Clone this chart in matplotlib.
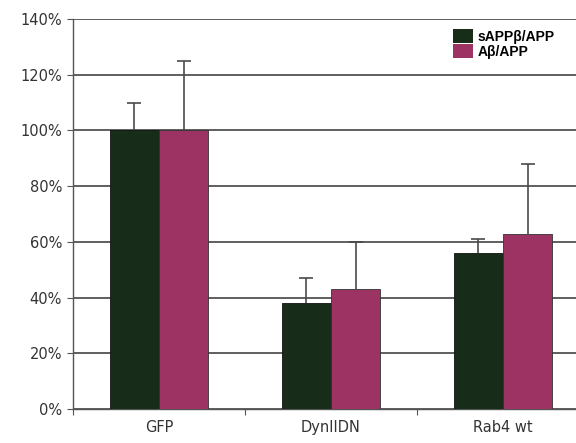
import numpy as np
import matplotlib
matplotlib.use("Agg")
import matplotlib.pyplot as plt
from matplotlib.ticker import FuncFormatter

# data
categories = ["GFP", "DynIIDN", "Rab4 wt"]
sappb = [100, 38, 56]
sappb_err = [10, 9, 5]
abeta = [100, 43, 63]
abeta_err = [25, 17, 25]
series_labels = ["sAPP\u03b2/APP", "A\u03b2/APP"]

green = "#172c19"
magenta = "#9c3363"

fig = plt.figure(figsize=(5.76, 4.43), dpi=100)
# right edge of the plot runs past the picture, like the cropped original
ax = fig.add_axes([73 / 576, 34 / 443, 516 / 576, 390 / 443])

x = np.arange(len(categories))
w = 0.285
err_kw = dict(ecolor="#4a4a4a", elinewidth=1.2, capsize=5, capthick=1.2)
b1 = ax.bar(x - w / 2, sappb, w, yerr=[np.zeros(3), sappb_err], color=green,
            edgecolor="#111111", linewidth=0.6, error_kw=err_kw, zorder=3,
            label=series_labels[0])
b2 = ax.bar(x + w / 2, abeta, w, yerr=[np.zeros(3), abeta_err], color=magenta,
            edgecolor="#333333", linewidth=0.6, error_kw=err_kw, zorder=3,
            label=series_labels[1])

# only the upper whisker has a cap in the original
for cont in (b1, b2):
    caps = cont.errorbar.lines[1]
    if len(caps) == 2:
        caps[0].set_visible(False)

ax.set_xlim(-0.5, len(categories) - 0.5)
ax.set_ylim(0, 140)
ax.set_yticks(range(0, 141, 20))
ax.yaxis.set_major_formatter(FuncFormatter(lambda v, p: f"{int(v)}%"))
ax.yaxis.grid(True, color="#444444", linewidth=1.2, zorder=0)
ax.set_axisbelow(True)

# category ticks sit on the boundaries, labels in the middle
ax.set_xticks(np.arange(len(categories) + 1) - 0.5)
ax.set_xticklabels([])
ax.set_xticks(x, minor=True)
ax.set_xticklabels(categories, minor=True)
ax.tick_params(axis="x", which="minor", length=0, pad=8, labelsize=10.5,
               labelcolor="#333333")
ax.tick_params(axis="x", which="major", length=4, color="#555555")
ax.tick_params(axis="y", length=4, color="#555555", labelsize=10.5,
               labelcolor="#333333", pad=4)

for side in ["top", "right"]:
    ax.spines[side].set_visible(False)
for side in ["left", "bottom"]:
    ax.spines[side].set_color("#555555")
    ax.spines[side].set_linewidth(1.0)

leg = fig.legend(handles=[b1, b2], loc="upper left",
                 bbox_to_anchor=(453 / 576, 1 - 29 / 443),
                 prop={"family": "Liberation Sans", "weight": "bold", "size": 10},
                 frameon=False,
                 handlelength=1.45, handleheight=1.2, handletextpad=0.35,
                 labelspacing=0.0, borderpad=0.0, borderaxespad=0)
for h in leg.legend_handles:
    h.set_linewidth(0)

fig.savefig("out.png", dpi=100)
